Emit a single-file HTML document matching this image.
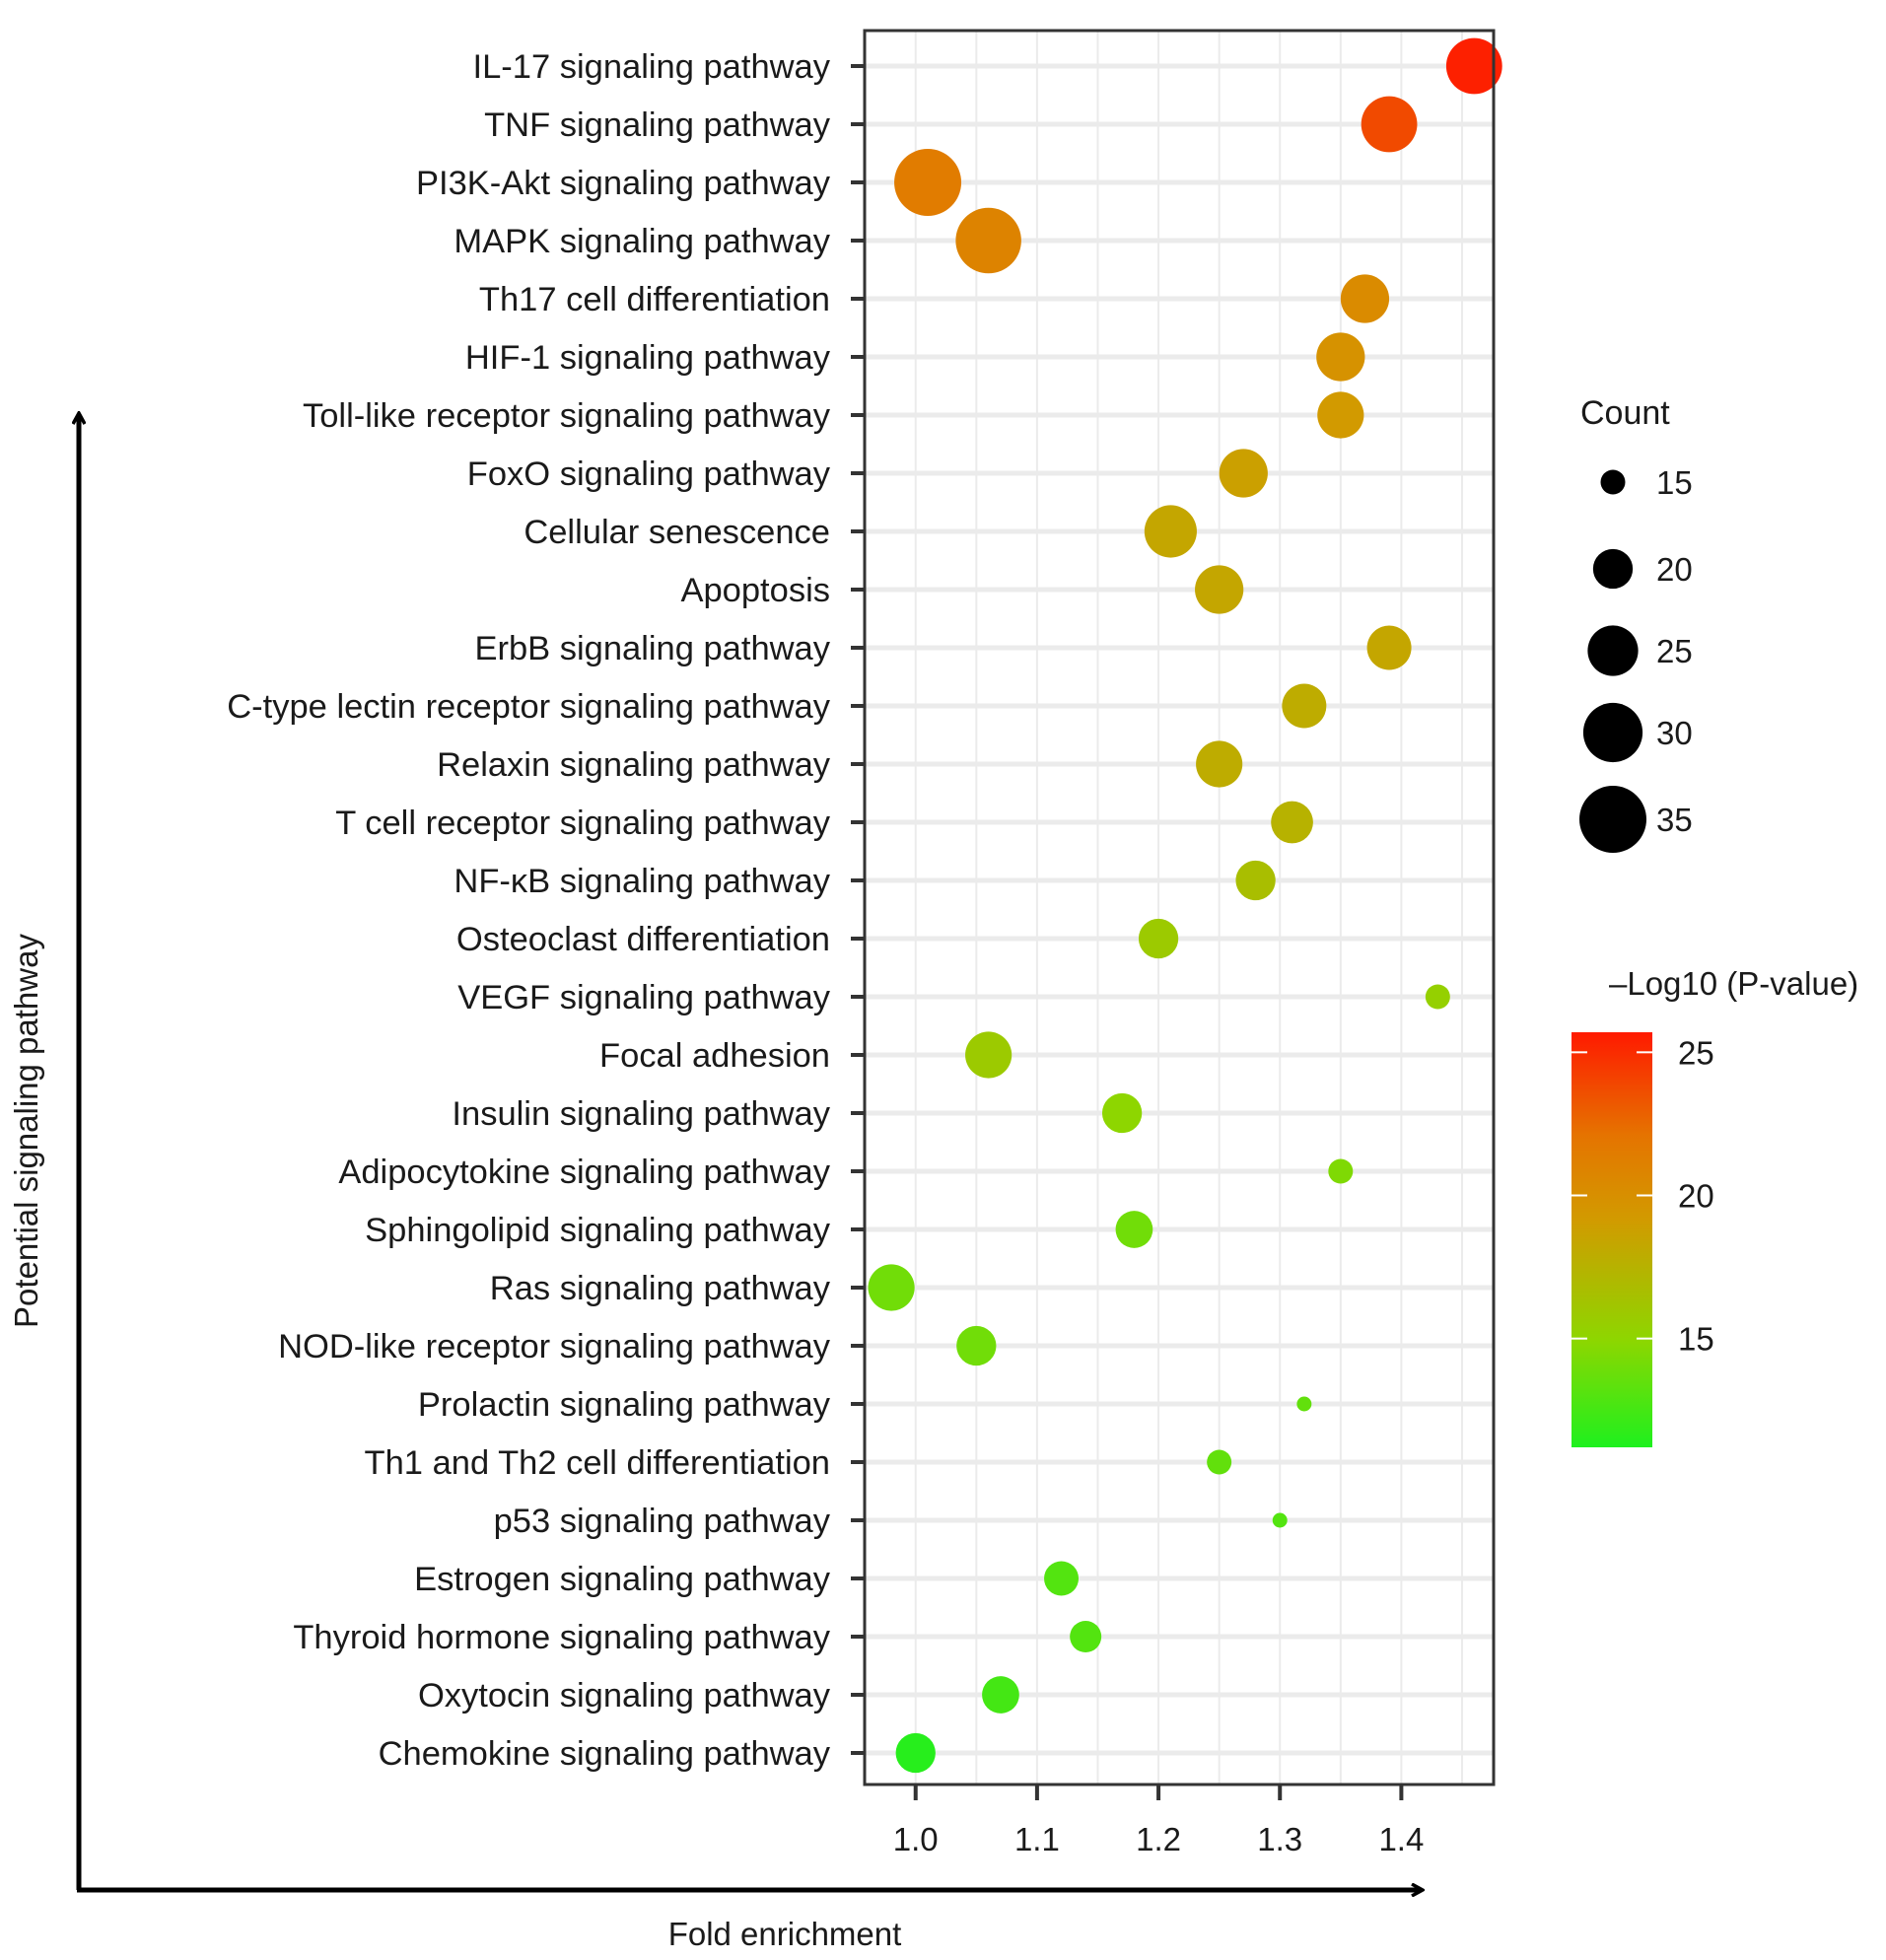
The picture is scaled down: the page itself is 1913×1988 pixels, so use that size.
<!DOCTYPE html>
<html><head><meta charset="utf-8"><style>
html,body{margin:0;padding:0;background:#fff;}
svg{display:block;font-family:"Liberation Sans",Arial,sans-serif;}
</style></head><body>
<svg id="chart" width="1913" height="1988" viewBox="0 0 1913 1988">
<defs>
<linearGradient id="cbar" x1="0" y1="1" x2="0" y2="0">
<stop offset="0" stop-color="#1ef01e"/>
<stop offset="0.26" stop-color="#8ed600"/>
<stop offset="0.55" stop-color="#d29a00"/>
<stop offset="0.75" stop-color="#e57400"/>
<stop offset="1" stop-color="#ff1a00"/>
</linearGradient>
<marker id="arr" markerWidth="14" markerHeight="14" refX="11" refY="7" orient="auto" markerUnits="userSpaceOnUse"><path d="M1,1 L12,7 L1,13" fill="none" stroke="#000" stroke-width="3.5"/></marker>
</defs>
<g id="grid"></g>
<g id="dots"></g>
<g id="labels"></g>
</svg>
<script>
const pathways=["IL-17 signaling pathway","TNF signaling pathway","PI3K-Akt signaling pathway","MAPK signaling pathway","Th17 cell differentiation","HIF-1 signaling pathway","Toll-like receptor signaling pathway","FoxO signaling pathway","Cellular senescence","Apoptosis","ErbB signaling pathway","C-type lectin receptor signaling pathway","Relaxin signaling pathway","T cell receptor signaling pathway","NF-κB signaling pathway","Osteoclast differentiation","VEGF signaling pathway","Focal adhesion","Insulin signaling pathway","Adipocytokine signaling pathway","Sphingolipid signaling pathway","Ras signaling pathway","NOD-like receptor signaling pathway","Prolactin signaling pathway","Th1 and Th2 cell differentiation","p53 signaling pathway","Estrogen signaling pathway","Thyroid hormone signaling pathway","Oxytocin signaling pathway","Chemokine signaling pathway"];
const foldEnrichment=[1.46,1.39,1.01,1.06,1.37,1.35,1.35,1.27,1.21,1.25,1.39,1.32,1.25,1.31,1.28,1.20,1.43,1.06,1.17,1.35,1.18,0.98,1.05,1.32,1.25,1.30,1.12,1.14,1.07,1.00];
const counts=[28,28,35,34,24,24,23,24,26,24,22,22,23,21,20,20,15,23,20,15,19,23,20,13,15,13,18,17,19,20];
const negLogP=[25.5,24,22,21.5,21,20.5,20,19.5,19,19,19,18.5,18.5,18,17,16,15.5,16,15,14.5,14,14,14,13.5,13.5,13,13,13,12.5,11.5];
const xTicks=[1.0,1.1,1.2,1.3,1.4];
const xTickLabels=["1.0","1.1","1.2","1.3","1.4"];
const sizeLegend=[15,20,25,30,35];
const colorTicks=[25,20,15];

const NS="http://www.w3.org/2000/svg";
const svg=document.getElementById('chart');
const gGrid=document.getElementById('grid'),gDots=document.getElementById('dots'),gLab=document.getElementById('labels');
const PL=877,PR=1515,PT=31,PB=1810;
const X0=0.958,X1=1.476;
const xs=v=>PL+(v-X0)/(X1-X0)*(PR-PL);
const rowTop=67,rowBot=1778;
const ys=i=>rowTop+i*(rowBot-rowTop)/(pathways.length-1);
const rs=c=>Math.sqrt(Math.max(20,156+50*(c-15)));
const stops=[[11.2,[30,240,30]],[15,[142,214,0]],[20,[210,154,0]],[22.5,[229,116,0]],[25.7,[255,26,0]]];
function col(v){if(v<=stops[0][0])return `rgb(${stops[0][1]})`;for(let i=1;i<stops.length;i++){if(v<=stops[i][0]){const a=stops[i-1],b=stops[i],t=(v-a[0])/(b[0]-a[0]);return 'rgb('+a[1].map((c,k)=>Math.round(c+(b[1][k]-c)*t)).join(',')+')';}}return `rgb(${stops[stops.length-1][1]})`;}
const cbTop=1047,cbBot=1468,cbMin=11.2,cbMax=25.7;
const cy=v=>cbBot-(v-cbMin)/(cbMax-cbMin)*(cbBot-cbTop);
function el(tag,attrs,parent,text){const e=document.createElementNS(NS,tag);for(const k in attrs)e.setAttribute(k,attrs[k]);if(text!==undefined)e.textContent=text;parent.appendChild(e);return e;}

let e=el('rect',{x:PL,y:PT,width:PR-PL,height:PB-PT,fill:'#fff'},gGrid);


for(let v=0.95;v<1.49;v+=0.05){const x=xs(v);if(x<=PL||x>=PR)continue;
 e=el('line',{x1:x,x2:x,y1:PT,y2:PB,stroke:'#ebebeb','stroke-width':2},gGrid);
 
 }
pathways.forEach((p,i)=>{const y=ys(i);
 e=el('line',{x1:PL,x2:PR,y1:y,y2:y,stroke:'#ebebeb','stroke-width':5},gGrid);
 
 
 e=el('line',{x1:PL-14,x2:PL,y1:y,y2:y,stroke:'#333','stroke-width':4},gGrid);
 
 
 e=el('text',{x:842,y:y+12,'text-anchor':'end','font-size':34.5,fill:'#1a1a1a'},gLab,p);
 
 
});
e=el('rect',{x:PL,y:PT,width:PR-PL,height:PB-PT,fill:'none',stroke:'#333','stroke-width':3},gLab);


xTicks.forEach((v,i)=>{const x=xs(v);
 e=el('line',{x1:x,x2:x,y1:PB,y2:PB+16,stroke:'#333','stroke-width':4},gLab);
 
 
 e=el('text',{x:x,y:1877,'text-anchor':'middle','font-size':33,fill:'#1a1a1a'},gLab,xTickLabels[i]);
 
 
});
pathways.forEach((p,i)=>{
 e=el('circle',{cx:xs(foldEnrichment[i]),cy:ys(i),r:rs(counts[i]),fill:col(negLogP[i])},gDots);
 
 
});
e=el('line',{x1:80,y1:1917,x2:80,y2:420,stroke:'#000','stroke-width':5,'marker-end':'url(#arr)'},gLab);


e=el('line',{x1:78,y1:1917,x2:1442,y2:1917,stroke:'#000','stroke-width':5,'marker-end':'url(#arr)'},gLab);


e=el('text',{x:796,y:1973,'text-anchor':'middle','font-size':33,fill:'#1a1a1a'},gLab,'Fold enrichment');


e=el('text',{x:0,y:0,'text-anchor':'middle','font-size':33,fill:'#1a1a1a',transform:'translate(38,1147) rotate(-90)'},gLab,'Potential signaling pathway');


e=el('text',{x:1603,y:430,'font-size':34,fill:'#1a1a1a'},gLab,'Count');


const legY=[489,577,660,743,831];
sizeLegend.forEach((c,i)=>{
 e=el('circle',{cx:1636,cy:legY[i],r:rs(c),fill:'#000'},gLab);
 
 
 e=el('text',{x:1680,y:legY[i]+12,'font-size':33,fill:'#1a1a1a'},gLab,String(c));
 
 
});
e=el('text',{x:1632,y:1009,'font-size':33,fill:'#1a1a1a'},gLab,'\u2013Log10 (P-value)');


e=el('rect',{x:1594,y:cbTop,width:82,height:cbBot-cbTop,fill:'url(#cbar)'},gLab);


colorTicks.forEach(v=>{const y=cy(v);
 e=el('line',{x1:1594,x2:1610,y1:y,y2:y,stroke:'#fff','stroke-width':2},gLab);
 
 
 e=el('line',{x1:1660,x2:1676,y1:y,y2:y,stroke:'#fff','stroke-width':2},gLab);
 
 
 e=el('text',{x:1702,y:y+12,'font-size':33,fill:'#1a1a1a'},gLab,String(v));
 
 
});
</script>
</body></html>
